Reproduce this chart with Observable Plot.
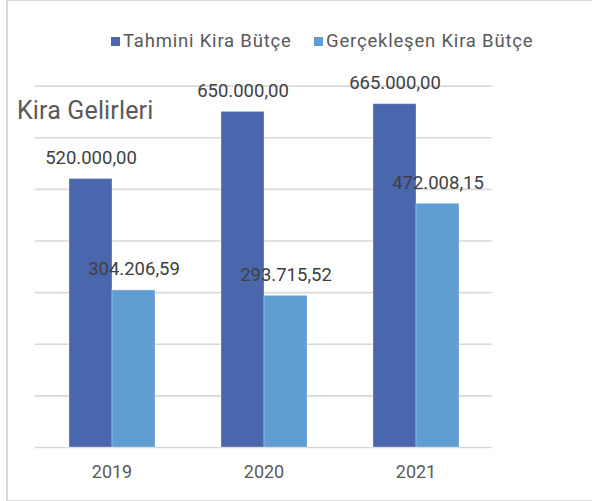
<!DOCTYPE html>
<html>
<head>
<meta charset="utf-8">
<script src="https://cdn.jsdelivr.net/npm/d3@7"></script>
<script src="https://cdn.jsdelivr.net/npm/@observablehq/plot@0.6"></script>
<style>
  html, body { margin: 0; padding: 0; background: #fff; overflow: hidden; }
  #wrap { position: relative; width: 592px; height: 501px; overflow: hidden; font-family: Roboto, sans-serif; }
  #frame { position: absolute; left: 6px; top: 0; width: 610px; height: 501px; border: 1px solid #d9d9d9; border-left-width: 2px; box-sizing: border-box; pointer-events: none; }
  #grid, #chart { position: absolute; left: 0; top: 0; }
  .title { position: absolute; left: 17px; top: 97.7px; font-size: 25px; line-height: 1; color: #595959; white-space: nowrap; letter-spacing: 0.15px; }
  .leg { position: absolute; top: 31.7px; font-size: 18.5px; line-height: 1; color: #595959; white-space: nowrap; display: flex; align-items: flex-start; letter-spacing: 0.8px; }
  .sw { width: 9px; height: 9px; margin-right: 3px; margin-top: 5.3px; }
</style>
</head>
<body>
<div id="wrap">
  <div id="frame"></div>
  <div id="grid"></div>
  <div id="chart"></div>
  <div class="title" id="title"></div>
  <div id="legend"></div>
</div>
<script>
const years = ["2019", "2020", "2021"];
const seriesNames = ["Tahmini Kira Bütçe", "Gerçekleşen Kira Bütçe"];
const tahmini = [520000, 650000, 665000];
const gerceklesen = [304206.59, 293715.52, 472008.15];
const yTicks = [0, 100000, 200000, 300000, 400000, 500000, 600000, 700000];
const colors = ["#4a66ad", "#5f9dd2"];
const titleText = "Kira Gelirleri";

const trLocale = d3.formatLocale({decimal: ",", thousands: ".", grouping: [3], currency: ["", ""]});
const fmt = trLocale.format(",.2f");

const data = [];
years.forEach((yr, i) => {
  data.push({year: yr, series: seriesNames[0], value: tahmini[i]});
  data.push({year: yr, series: seriesNames[1], value: gerceklesen[i]});
});

const dims = {
  width: 592,
  height: 501,
  marginLeft: 35,
  marginRight: 100.3,
  marginTop: 85.6,
  marginBottom: 54
};

const grid = Plot.plot({
  ...dims,
  style: {background: "transparent"},
  x: {axis: null},
  y: {domain: [0, 700000], axis: null},
  marks: [
    Plot.ruleY(yTicks, {y: d => d, stroke: "#d9d9d9", strokeWidth: 1.6})
  ]
});
document.getElementById("grid").appendChild(grid);

const chart = Plot.plot({
  ...dims,
  style: {fontFamily: "Roboto, sans-serif", background: "transparent"},
  fx: {domain: years, paddingInner: 0.429, paddingOuter: 0.2145, label: null, axis: null},
  x: {domain: seriesNames, padding: 0, axis: null},
  y: {domain: [0, 700000], axis: null},
  color: {domain: seriesNames, range: colors},
  marks: [
    Plot.barY(data, {fx: "year", x: "series", y: "value", fill: "series", stroke: "#ffffff", strokeOpacity: 0.3, strokeWidth: 1, inset: 0}),
    Plot.text(data, {fx: "year", x: "series", y: "value", text: d => fmt(d.value), dy: -21, lineAnchor: "middle", fontSize: 18.5, fill: "#404040"}),
    Plot.axisFx({anchor: "bottom", tickSize: 0, tickPadding: 18, fontSize: 18, color: "#595959", label: null})
  ]
});
document.getElementById("chart").appendChild(chart);

document.getElementById("title").textContent = titleText;
const legend = document.getElementById("legend");
const legX = [111, 314];
seriesNames.forEach((s, i) => {
  const item = document.createElement("div");
  item.className = "leg";
  item.style.left = legX[i] + "px";
  const sw = document.createElement("div");
  sw.className = "sw";
  sw.style.background = colors[i];
  const t = document.createElement("span");
  t.textContent = s;
  item.appendChild(sw);
  item.appendChild(t);
  legend.appendChild(item);
});
</script>
</body>
</html>
